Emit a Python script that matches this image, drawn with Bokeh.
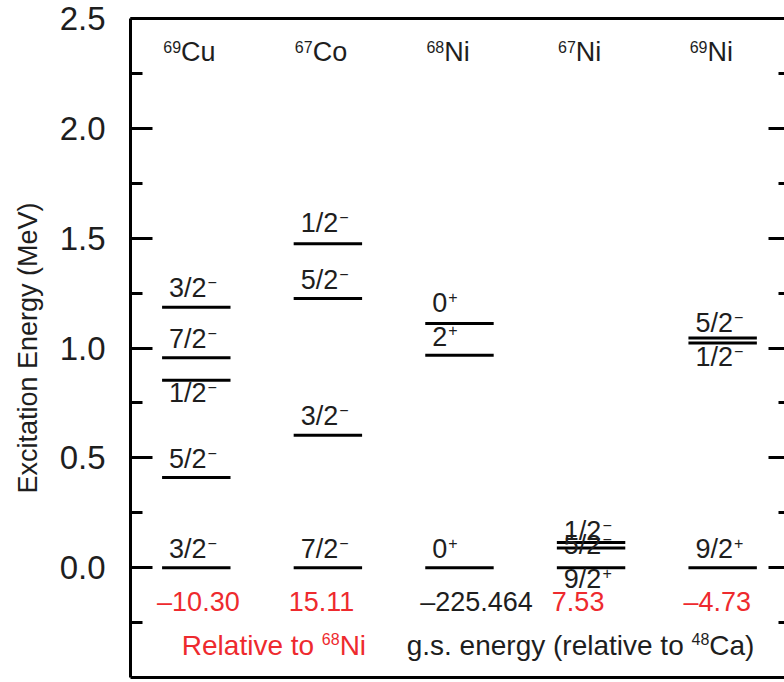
from bokeh.plotting import figure
from bokeh.models import (LinearAxis, FixedTicker, NumeralTickFormatter,
                          CustomJSTickFormatter, ColumnDataSource, Range1d)
from bokeh.embed import file_html
from bokeh.resources import INLINE
from bokeh.core.properties import value

# ---------------- data ----------------
nucleus_mass = ["69", "67", "68", "67", "69"]
nucleus_symbol = ["Cu", "Co", "Ni", "Ni", "Ni"]

cu69_energy = [0.0, 0.410, 0.853, 0.956, 1.186]
cu69_spin = ["3/2", "5/2", "1/2", "7/2", "3/2"]
cu69_parity = ["−", "−", "−", "−", "−"]

co67_energy = [0.0, 0.603, 1.225, 1.475]
co67_spin = ["7/2", "3/2", "5/2", "1/2"]
co67_parity = ["−", "−", "−", "−"]

ni68_energy = [0.0, 0.967, 1.111]
ni68_spin = ["0", "2", "0"]
ni68_parity = ["+", "+", "+"]

ni67_energy = [0.0, 0.090, 0.115]
ni67_spin = ["9/2", "5/2", "1/2"]
ni67_parity = ["+", "−", "−"]

ni69_energy = [0.0, 1.023, 1.045]
ni69_spin = ["9/2", "1/2", "5/2"]
ni69_parity = ["+", "−", "−"]

gs_energy_text = ["–10.30", "15.11", "–225.464", "7.53", "–4.73"]
gs_is_relative = [True, True, False, True, True]

y_major_ticks = [0.0, 0.5, 1.0, 1.5, 2.0, 2.5]
y_minor_ticks = [-0.25, 0.25, 0.75, 1.25, 1.75, 2.25]

# ---------------- layout / style ----------------
FONT = "Liberation Sans"
RED = "#ee2a2e"
INK = "#1e1e1e"
MAIN = 27
SUP = 16
NOTE = 28
HALF = 0.26          # half width of a level line (x units)
# label baseline offsets (screen px) per level
label_dy = [
    [-9, -9, 23, -9, -9],
    [-9, -9, -9, -11],
    [-9, -9, -11],
    [21, 7, -1],
    [-9, 24, -5],
]

HELV = {' ': 278, '(': 333, ')': 333, '.': 278, '/': 278, 'C': 722, 'N': 722,
        'R': 722, 'a': 556, 'e': 556, 'g': 556, 'i': 222, 'l': 222, 'n': 556,
        'o': 556, 'r': 333, 's': 500, 't': 278, 'v': 500, 'y': 500, 'u': 556,
        '−': 584, '–': 556, '+': 584}


def text_px(s, size):
    return sum(HELV.get(ch, 556) for ch in s) * size / 1000.0


def base(size):
    # shift so that the requested offset addresses the alphabetic baseline
    return -0.37 * size


levels = [
    (cu69_energy, cu69_spin, cu69_parity),
    (co67_energy, co67_spin, co67_parity),
    (ni68_energy, ni68_spin, ni68_parity),
    (ni67_energy, ni67_spin, ni67_parity),
    (ni69_energy, ni69_spin, ni69_parity),
]

p = figure(width=784, height=682, output_backend="svg", toolbar_location=None,
           x_range=Range1d(0.5, 5.47), y_range=Range1d(-0.5, 2.5),
           x_axis_location=None, y_axis_location=None,
           min_border_left=130, min_border_top=18, min_border_bottom=5,
           min_border_right=0)
p.grid.visible = False
p.outline_line_color = None
p.background_fill_color = "white"
p.border_fill_color = "white"

blank = CustomJSTickFormatter(code="return '';")

yl = LinearAxis(ticker=FixedTicker(ticks=y_major_ticks, minor_ticks=y_minor_ticks),
                formatter=NumeralTickFormatter(format="0.0"),
                axis_label="Excitation Energy (MeV)")
yl.axis_line_width = 3
yl.axis_line_color = "black"
yl.major_tick_in = 22
yl.major_tick_out = 0
yl.minor_tick_in = 12
yl.minor_tick_out = 0
yl.major_tick_line_width = 3
yl.minor_tick_line_width = 3
yl.major_label_standoff = 25
yl.major_label_text_font = FONT
yl.major_label_text_font_size = "33px"
yl.major_label_text_color = INK
yl.axis_label_text_font = FONT
yl.axis_label_text_font_size = "27px"
yl.axis_label_text_font_style = "normal"
yl.axis_label_text_color = INK
yl.axis_label_standoff = 14
p.add_layout(yl, "left")

yr = LinearAxis(ticker=FixedTicker(ticks=y_major_ticks, minor_ticks=y_minor_ticks),
                formatter=blank)
yr.axis_line_color = None
yr.major_tick_in = 16
yr.major_tick_out = 0
yr.minor_tick_in = 6
yr.minor_tick_out = 0
yr.major_tick_line_width = 3
yr.minor_tick_line_width = 3
yr.major_label_standoff = 0
yr.major_label_text_font_size = "1px"
p.add_layout(yr, "right")

for loc in ("above", "below"):
    ax = LinearAxis(ticker=FixedTicker(ticks=[]), formatter=blank)
    ax.axis_line_width = 3
    ax.axis_line_color = "black"
    ax.major_tick_in = 0
    ax.major_tick_out = 0
    ax.minor_tick_in = 0
    ax.minor_tick_out = 0
    ax.major_label_standoff = 0
    ax.major_label_text_font_size = "1px"
    p.add_layout(ax, loc)

# ---------------- level lines and labels ----------------
seg = dict(x0=[], x1=[], y=[])
lab = dict(x=[], y=[], text=[], dx=[], dy=[])
sup = dict(x=[], y=[], text=[], dx=[], dy=[])
for i, (energy, spin, parity) in enumerate(levels):
    xc = i + 1
    for j, e in enumerate(energy):
        seg["x0"].append(xc - HALF)
        seg["x1"].append(xc + HALF)
        seg["y"].append(e)
        lab["x"].append(xc - HALF)
        lab["y"].append(e)
        lab["text"].append(spin[j])
        lab["dx"].append(7)
        lab["dy"].append(label_dy[i][j] + base(MAIN))
        sup["x"].append(xc - HALF)
        sup["y"].append(e)
        sup["text"].append(parity[j])
        sup["dx"].append(7 + text_px(spin[j], MAIN) + 1)
        sup["dy"].append(label_dy[i][j] - 10 + base(SUP))

p.segment(x0="x0", x1="x1", y0="y", y1="y", source=ColumnDataSource(seg),
          line_width=3, line_color="black")
p.text(x="x", y="y", text="text", x_offset="dx", y_offset="dy",
       source=ColumnDataSource(lab), text_font=value(FONT),
       text_font_size=f"{MAIN}px", text_color=INK,
       text_align="left", text_baseline="alphabetic")
p.text(x="x", y="y", text="text", x_offset="dx", y_offset="dy",
       source=ColumnDataSource(sup), text_font=value(FONT),
       text_font_size=f"{SUP}px", text_color=INK,
       text_align="left", text_baseline="alphabetic")

# ---------------- nucleus headers ----------------
HEADER_Y = 2.3
hx = [i + 1 - HALF for i in range(len(nucleus_symbol))]
p.text(x=hx, y=[HEADER_Y] * len(hx), text=nucleus_mass, x_offset=19,
       y_offset=-10 + base(SUP),
       text_font=value(FONT), text_font_size=f"{SUP}px", text_color=INK,
       text_align="right", text_baseline="alphabetic")
p.text(x=hx, y=[HEADER_Y] * len(hx), text=nucleus_symbol, x_offset=19,
       y_offset=base(MAIN),
       text_font=value(FONT), text_font_size=f"{MAIN}px", text_color=INK,
       text_align="left", text_baseline="alphabetic")

# ---------------- ground-state energies ----------------
GS_Y = -0.2
p.text(x=hx, y=[GS_Y] * len(hx), text=gs_energy_text, x_offset=-5,
       y_offset=base(MAIN),
       text_font=value(FONT), text_font_size=f"{MAIN}px",
       text_color=[RED if r else INK for r in gs_is_relative],
       text_align="left", text_baseline="alphabetic")


def runs_centered(xc, y, runs, color):
    widths = [text_px(t, SUP if s else NOTE) for t, s in runs]
    off = -sum(widths) / 2.0
    for (t, s), w in zip(runs, widths):
        size = SUP if s else NOTE
        p.text(x=[xc], y=[y], text=[t], x_offset=off,
               y_offset=(-11 if s else 0) + base(size),
               text_font=value(FONT), text_font_size=f"{size}px",
               text_color=color, text_align="left", text_baseline="alphabetic")
        off += w


NOTE_Y = -0.4
runs_centered(1.59, NOTE_Y, [("Relative to ", False), ("68", True), ("Ni", False)], RED)
runs_centered(3.92, NOTE_Y, [("g.s. energy (relative to ", False), ("48", True),
                             ("Ca)", False)], INK)

open("out.html", "w").write(file_html(p, INLINE))
